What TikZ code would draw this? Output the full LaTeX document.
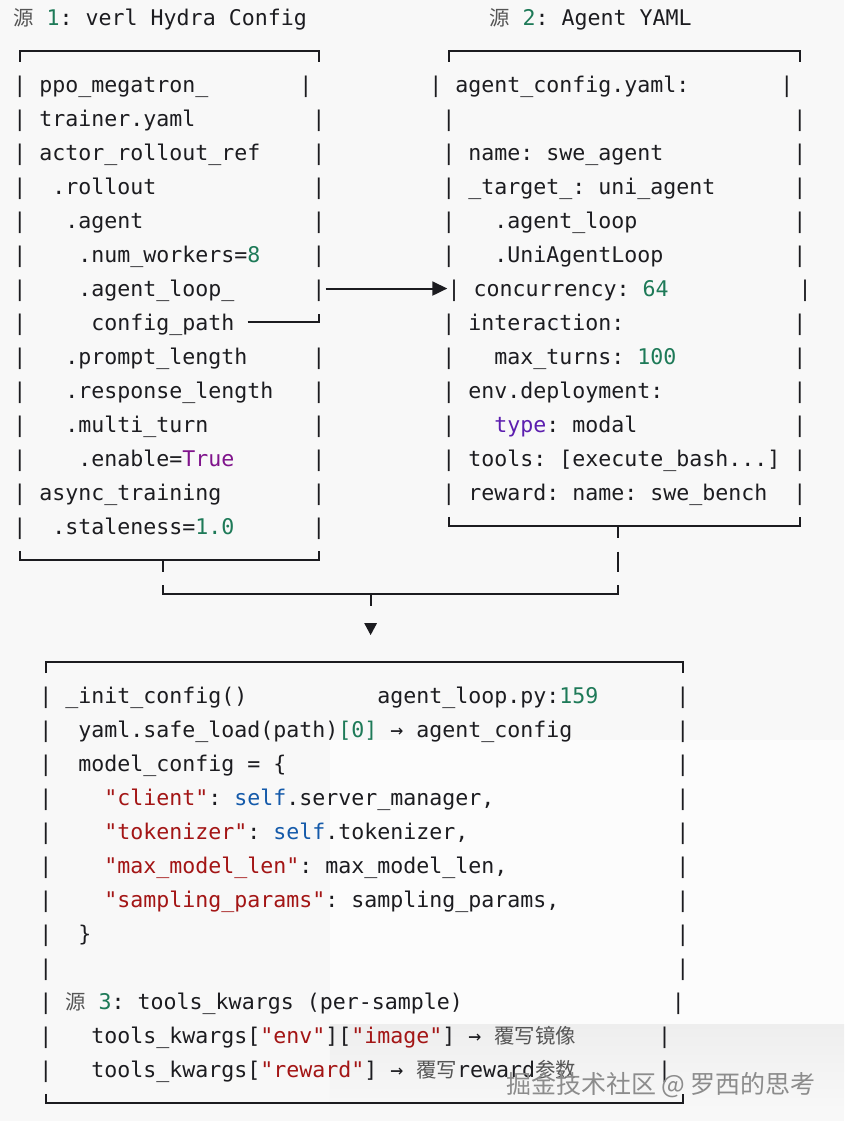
\documentclass[tikz,border=0pt]{standalone}
\usepackage{fontspec}
\usetikzlibrary{arrows.meta}
\newfontfamily\codefont{DejaVu Sans Mono}
\newfontfamily\cjkfont{Noto Sans CJK SC}
\definecolor{ink}{RGB}{28,28,32}
\definecolor{bg}{RGB}{248,248,248}
\definecolor{patch}{RGB}{252,252,252}
\definecolor{band}{RGB}{238,238,238}
\definecolor{numgreen}{RGB}{30,122,88}
\definecolor{kwpurple}{RGB}{128,20,140}
\definecolor{typeviolet}{RGB}{92,30,175}
\definecolor{strred}{RGB}{163,21,21}
\definecolor{selfblue}{RGB}{20,90,170}
\definecolor{zhgray}{RGB}{85,85,85}
\definecolor{markgray}{RGB}{140,140,140}
\newcommand\cnum[1]{\textcolor{numgreen}{#1}}
\newcommand\ckw[1]{\textcolor{kwpurple}{#1}}
\newcommand\ctype[1]{\textcolor{typeviolet}{#1}}
\newcommand\cstr[1]{\textcolor{strred}{#1}}
\newcommand\cself[1]{\textcolor{selfblue}{#1}}
\newcommand\zh[1]{{\cjkfont\fontsize{20.4pt}{34pt}\selectfont\color{zhgray}#1}}

\begin{document}
\begin{tikzpicture}[
  x=13pt, y=-33.94pt,
  code/.style={anchor=west, inner sep=0pt, text height=20pt, text depth=4pt, text=ink,
    font={\codefont\fontsize{21.6pt}{34pt}\selectfont\frenchspacing}},
  edge/.style={draw=ink, line width=2pt},
  flow/.style={edge, -{Triangle[length=15pt, width=14pt]}}
]
\useasboundingbox (-1.008,-0.501) rectangle (63.915,32.527);
\fill[bg] (-1.008,-0.501) rectangle (63.915,32.527);
\fill[patch] (24.37,21.3) rectangle (63.915,29.67);
\shade[top color=band, bottom color=bg] (24.37,29.67) rectangle (63.915,32.2);

% titles
\node[code] (title1) at (0,0) {\zh{源} \cnum{1}: verl Hydra Config};
\node[code] (title2) at (36.6,0) {\zh{源} \cnum{2}: Agent YAML};

% source 1: hydra config
\draw[edge] (0.5,1.32) |- (23.5,1) -- (23.5,1.32);
\foreach \r in {2,...,15} \node[code] (hl\r) at (0,\r) {|};
\node[code] (hr2) at (22,2) {|};
\foreach \r in {3,4,5,6,7,8,10,11,12,13,14,15} \node[code] (hr\r) at (23,\r) {|};
\node[code] (ppo) at (2,2) {ppo\_megatron\_};
\node[code] (trainer) at (2,3) {trainer.yaml};
\node[code] (actor) at (2,4) {actor\_rollout\_ref};
\node[code] (rollout) at (3,5) {.rollout};
\node[code] (agent) at (4,6) {.agent};
\node[code] (workers) at (5,7) {.num\_workers=\cnum{8}};
\node[code] (loopkey) at (5,8) {.agent\_loop\_};
\node[code] (cfgpath) at (6,9) {config\_path};
\node[code] (prompt) at (4,10) {.prompt\_length};
\node[code] (response) at (4,11) {.response\_length};
\node[code] (multi) at (4,12) {.multi\_turn};
\node[code] (enable) at (5,13) {.enable=\ckw{True}};
\node[code] (async) at (2,14) {async\_training};
\node[code] (stale) at (3,15) {.staleness=\cnum{1.0}};
\draw[edge] (0.5,15.73) |- (23.5,16) -- (23.5,15.73);
\coordinate (hydtap) at (11.5,16);

% source 2: agent yaml
\draw[edge] (33.5,1.32) |- (60.5,1) -- (60.5,1.32);
\node[code] (yl2) at (32,2) {|};
\node[code] (yr2) at (59,2) {|};
\node[code] (yl8) at (33.4,8) {|};
\node[code] (yr8) at (60.4,8) {|};
\foreach \r in {3,4,5,6,7,9,10,11,12,13,14} {
  \node[code] (yl\r) at (33,\r) {|};
  \node[code] (yr\r) at (60,\r) {|};
}
\node[code] (yamlfile) at (34,2) {agent\_config.yaml:};
\node[code] (aname) at (35,4) {name: swe\_agent};
\node[code] (target) at (35,5) {\_target\_: uni\_agent};
\node[code] (loopmod) at (37,6) {.agent\_loop};
\node[code] (loopcls) at (37,7) {.UniAgentLoop};
\node[code] (concur) at (35.4,8) {concurrency: \cnum{64}};
\node[code] (interact) at (35,9) {interaction:};
\node[code] (turns) at (37,10) {max\_turns: \cnum{100}};
\node[code] (deploy) at (35,11) {env.deployment:};
\node[code] (dtype) at (37,12) {\ctype{type}: modal};
\node[code] (tools) at (35,13) {tools: [execute\_bash...]};
\node[code] (reward) at (35,14) {reward: name: swe\_bench};
\draw[edge] (33.5,14.73) |- (60.5,15) -- (60.5,14.73);
\coordinate (yamltap) at (46.5,15);

% config_path -> agent yaml
\draw[flow] (hr8.east) -- (yl8.west);
\draw[edge] ([xshift=13pt]cfgpath.east) -| (hr8.center |- 0,8.74);

% merge into _init_config
\coordinate (join) at (27.5,17);
\draw[edge] (hydtap) -- ++(0,0.35);
\draw[edge] (yamltap) -- ++(0,0.35);
\draw[edge] (46.5,15.75) -- (46.5,16.35);
\draw[edge] (11.5,16.74) |- (join) -| (46.5,16.74);
\draw[edge] (join) -- ++(0,0.35);
\fill[ink] (27.01,17.86) -- (27.99,17.86) -- (27.5,18.21) -- cycle;

% init config
\draw[edge] (2.5,19.33) |- (51.5,19) -- (51.5,19.33);
\foreach \r in {20,...,31} \node[code] (il\r) at (2,\r) {|};
\foreach \r in {20,...,28} \node[code] (ir\r) at (51,\r) {|};
\node[code] (ir29) at (50.65,29) {|};
\node[code] (ir30) at (49.6,30) {|};
\node[code] (ir31) at (49.6,31) {|};
\node[code] (initcfg) at (4,20) {\_init\_config()};
\node[code] (srcline) at (28,20) {agent\_loop.py:\cnum{159}};
\node[code] (safeload) at (5,21) {yaml.safe\_load(path)\cnum{[0]} → agent\_config};
\node[code] (modelcfg) at (5,22) {model\_config = \{};
\node[code] (client) at (7,23) {\cstr{"client"}: \cself{self}.server\_manager,};
\node[code] (tokenizer) at (7,24) {\cstr{"tokenizer"}: \cself{self}.tokenizer,};
\node[code] (maxlen) at (7,25) {\cstr{"max\_model\_len"}: max\_model\_len,};
\node[code] (sampling) at (7,26) {\cstr{"sampling\_params"}: sampling\_params,};
\node[code] (closing) at (5,27) {\}};
\node[code] (src3) at (4,29) {\zh{源} \cnum{3}: tools\_kwargs (per-sample)};
\node[code] (envimg) at (6,30) {tools\_kwargs[\cstr{"env"}][\cstr{"image"}] → \zh{覆写镜像}};
\node[code] (rwdarg) at (6,31) {tools\_kwargs[\cstr{"reward"}] → \zh{覆写}reward\zh{参数}};
\draw[edge] (2.5,31.73) |- (51.5,32) -- (51.5,31.73);

\node[anchor=west, inner sep=0pt, text=markgray, font={\cjkfont\fontsize{25pt}{30pt}\selectfont}] (mark) at (37.9,31.47) {掘金技术社区 @ 罗西的思考};
\end{tikzpicture}
\end{document}
